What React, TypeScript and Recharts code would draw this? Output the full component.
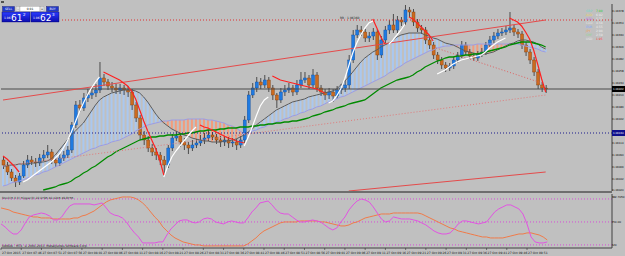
import React from 'react'
import {
  ComposedChart, Bar, Line, XAxis, YAxis, ReferenceLine, Cell,
} from 'recharts'

const _ = null

// EURUSD M1 candles, 27 Oct
const OPEN = [
  1.0608, 1.0607, 1.06056, 1.06044, 1.06036, 1.06048, 1.0607, 1.0608, 1.06076, 1.06074,
  1.06084, 1.0609, 1.06096, 1.0608, 1.06074, 1.06084, 1.0609, 1.061, 1.0615, 1.0619,
  1.06184, 1.06204, 1.0621, 1.06214, 1.0622, 1.06244, 1.06236, 1.06228, 1.06224, 1.0622,
  1.06224, 1.0622, 1.06216, 1.0619, 1.06164, 1.0613, 1.0612, 1.06104, 1.06096, 1.0609,
  1.0608, 1.0607, 1.06104, 1.06124, 1.06128, 1.06116, 1.0611, 1.06104, 1.0611, 1.06114,
  1.0612, 1.06124, 1.0613, 1.06126, 1.0612, 1.06116, 1.0612, 1.06114, 1.06116, 1.0611,
  1.0612, 1.0616, 1.0621, 1.06224, 1.06236, 1.0623, 1.0624, 1.06224, 1.0621, 1.062,
  1.06216, 1.0622, 1.06224, 1.06216, 1.0623, 1.0624, 1.06244, 1.0623, 1.0625, 1.06224,
  1.06216, 1.0621, 1.06216, 1.06208, 1.0622, 1.06224, 1.0623, 1.0628, 1.0633, 1.0634,
  1.06336, 1.06324, 1.06328, 1.06336, 1.0629, 1.0632, 1.0634, 1.0635, 1.0634, 1.0636,
  1.06356, 1.0638, 1.06376, 1.06356, 1.06344, 1.0634, 1.0632, 1.0631, 1.0629, 1.0628,
  1.0627, 1.06264, 1.06268, 1.0628, 1.0629, 1.0631, 1.06296, 1.06288, 1.06284, 1.06292,
  1.06296, 1.0631, 1.0632, 1.06328, 1.06334, 1.06336, 1.0634, 1.06344, 1.06336, 1.06332,
  1.0631, 1.06296, 1.0628, 1.06256, 1.0623, 1.06224,
]
const HIGH = [
  1.06088, 1.06076, 1.06062, 1.0605, 1.06054, 1.06078, 1.0609, 1.06088, 1.06084, 1.06092,
  1.061, 1.0611, 1.06102, 1.06086, 1.06092, 1.06098, 1.06108, 1.06156, 1.06198, 1.062,
  1.06214, 1.06222, 1.06226, 1.06232, 1.06276, 1.06252, 1.06242, 1.06236, 1.06232, 1.06232,
  1.0623, 1.06228, 1.06222, 1.06196, 1.0617, 1.06138, 1.06128, 1.06112, 1.06104, 1.06096,
  1.06088, 1.0611, 1.06132, 1.06138, 1.06134, 1.06124, 1.06116, 1.0612, 1.06122, 1.0613,
  1.06134, 1.0614, 1.06136, 1.06132, 1.06128, 1.06128, 1.06126, 1.06124, 1.06122, 1.06128,
  1.06168, 1.06218, 1.06234, 1.06246, 1.06244, 1.0625, 1.06246, 1.0623, 1.06214, 1.06224,
  1.0623, 1.06234, 1.0623, 1.0624, 1.06256, 1.06256, 1.0625, 1.06262, 1.06256, 1.0623,
  1.06222, 1.06224, 1.06222, 1.06228, 1.06232, 1.0624, 1.0629, 1.0634, 1.0635, 1.06348,
  1.06342, 1.06336, 1.06344, 1.06342, 1.06328, 1.06348, 1.0636, 1.06372, 1.06368, 1.06366,
  1.0639, 1.06386, 1.06382, 1.06362, 1.0635, 1.06346, 1.06326, 1.06316, 1.06296, 1.06286,
  1.06276, 1.06274, 1.06286, 1.06296, 1.06318, 1.06316, 1.06302, 1.06294, 1.06298, 1.06304,
  1.06316, 1.06328, 1.06336, 1.06342, 1.06344, 1.06348, 1.06376, 1.0635, 1.06342, 1.06338,
  1.06316, 1.06302, 1.06286, 1.06262, 1.06236, 1.0623,
]
const LOW = [
  1.06062, 1.0605, 1.06038, 1.06026, 1.0603, 1.06044, 1.06064, 1.0607, 1.06066, 1.06068,
  1.06078, 1.06084, 1.06072, 1.06066, 1.06068, 1.06078, 1.06084, 1.06094, 1.06144, 1.06176,
  1.06178, 1.06196, 1.06202, 1.06206, 1.06214, 1.06228, 1.0622, 1.06216, 1.06212, 1.06212,
  1.0621, 1.06206, 1.0618, 1.06156, 1.0612, 1.0611, 1.06096, 1.06088, 1.0608, 1.0607,
  1.06048, 1.06064, 1.06098, 1.06118, 1.06106, 1.061, 1.06092, 1.06098, 1.06104, 1.06108,
  1.06112, 1.06118, 1.0612, 1.06112, 1.06106, 1.06108, 1.06104, 1.06106, 1.061, 1.06104,
  1.06114, 1.06154, 1.06204, 1.06216, 1.06222, 1.06224, 1.06216, 1.062, 1.06184, 1.06194,
  1.06208, 1.06214, 1.06208, 1.0621, 1.06224, 1.06234, 1.06222, 1.06224, 1.06216, 1.06208,
  1.062, 1.06202, 1.06196, 1.06202, 1.06212, 1.06216, 1.06222, 1.06274, 1.06324, 1.06328,
  1.06316, 1.06316, 1.0632, 1.0628, 1.06284, 1.06314, 1.06332, 1.06334, 1.06334, 1.06348,
  1.0635, 1.06366, 1.06348, 1.06336, 1.06332, 1.06312, 1.06302, 1.06282, 1.06272, 1.06262,
  1.06256, 1.06258, 1.06262, 1.06274, 1.06284, 1.0629, 1.06282, 1.06278, 1.06278, 1.06286,
  1.0629, 1.06304, 1.06314, 1.06322, 1.06328, 1.0633, 1.06334, 1.06328, 1.06324, 1.06302,
  1.06288, 1.06272, 1.06248, 1.06222, 1.06216, 1.06214,
]
const CLOSE = [
  1.0607, 1.06056, 1.06044, 1.06036, 1.06048, 1.0607, 1.0608, 1.06076, 1.06074, 1.06084,
  1.0609, 1.06096, 1.0608, 1.06074, 1.06084, 1.0609, 1.061, 1.0615, 1.0619, 1.06184,
  1.06204, 1.0621, 1.06214, 1.0622, 1.06244, 1.06236, 1.06228, 1.06224, 1.0622, 1.06224,
  1.0622, 1.06216, 1.0619, 1.06164, 1.0613, 1.0612, 1.06104, 1.06096, 1.0609, 1.0608,
  1.0607, 1.06104, 1.06124, 1.06128, 1.06116, 1.0611, 1.06104, 1.0611, 1.06114, 1.0612,
  1.06124, 1.0613, 1.06126, 1.0612, 1.06116, 1.0612, 1.06114, 1.06116, 1.0611, 1.0612,
  1.0616, 1.0621, 1.06224, 1.06236, 1.0623, 1.0624, 1.06224, 1.0621, 1.062, 1.06216,
  1.0622, 1.06224, 1.06216, 1.0623, 1.0624, 1.06244, 1.0623, 1.0625, 1.06224, 1.06216,
  1.0621, 1.06216, 1.06208, 1.0622, 1.06224, 1.0623, 1.0628, 1.0633, 1.0634, 1.06336,
  1.06324, 1.06328, 1.06336, 1.0629, 1.0632, 1.0634, 1.0635, 1.0634, 1.0636, 1.06356,
  1.0638, 1.06376, 1.06356, 1.06344, 1.0634, 1.0632, 1.0631, 1.0629, 1.0628, 1.0627,
  1.06264, 1.06268, 1.0628, 1.0629, 1.0631, 1.06296, 1.06288, 1.06284, 1.06292, 1.06296,
  1.0631, 1.0632, 1.06328, 1.06334, 1.06336, 1.0634, 1.06344, 1.06336, 1.06332, 1.0631,
  1.06296, 1.0628, 1.06256, 1.0623, 1.06224, 1.06222,
]

// moving averages (fast gray, slow lavender -> cloud between them; long green)
const MA_FAST = [
  1.06068, 1.06068, 1.0607, 1.0607, 1.06072, 1.06072, 1.06072, 1.06074, 1.06074, 1.06076,
  1.06076, 1.06078, 1.06082, 1.0609, 1.061, 1.0611, 1.0612, 1.0613, 1.06138, 1.06146,
  1.06154, 1.06166, 1.06178, 1.0619, 1.062, 1.06206, 1.0621, 1.06214, 1.06216, 1.06218,
  1.0622, 1.0622, 1.0622, 1.06218, 1.06214, 1.06206, 1.06196, 1.06184, 1.06172, 1.06162,
  1.06154, 1.06148, 1.06142, 1.06138, 1.06134, 1.0613, 1.06128, 1.06124, 1.06122, 1.0612,
  1.06118, 1.06118, 1.06116, 1.06116, 1.06116, 1.06118, 1.06118, 1.0612, 1.06122, 1.06126,
  1.0613, 1.06136, 1.06142, 1.0615, 1.06156, 1.06162, 1.06168, 1.06174, 1.0618, 1.06184,
  1.06188, 1.06192, 1.06196, 1.06198, 1.062, 1.06202, 1.06206, 1.06208, 1.0621, 1.06212,
  1.06214, 1.06216, 1.06218, 1.06222, 1.0623, 1.06238, 1.06246, 1.06256, 1.06266, 1.06276,
  1.06284, 1.0629, 1.06296, 1.063, 1.06306, 1.0631, 1.06314, 1.0632, 1.06326, 1.0633,
  1.06332, 1.06334, 1.06334, 1.06334, 1.06334, 1.0633, 1.06328, 1.06324, 1.06322, 1.06318,
  1.06314, 1.06312, 1.0631, 1.06306, 1.06302, 1.06298, 1.06296, 1.06294, 1.06292, 1.06292,
  1.06292, 1.06294, 1.06296, 1.063, 1.06304, 1.06308, 1.06312, 1.06314, 1.06318, 1.0632,
  1.0632, 1.06318, 1.06316, 1.06312, 1.06306, 1.06302,
]
const MA_SLOW = [
  1.06028, 1.0603, 1.06034, 1.06036, 1.06038, 1.0604, 1.06044, 1.06046, 1.0605, 1.06052,
  1.06056, 1.06058, 1.06062, 1.06066, 1.0607, 1.06074, 1.06078, 1.06082, 1.06086, 1.0609,
  1.06094, 1.06098, 1.06102, 1.06104, 1.06108, 1.0611, 1.06112, 1.06116, 1.06118, 1.0612,
  1.06124, 1.06128, 1.06132, 1.06138, 1.06142, 1.06146, 1.0615, 1.06152, 1.06154, 1.06156,
  1.06158, 1.06158, 1.0616, 1.0616, 1.0616, 1.0616, 1.06162, 1.06162, 1.06162, 1.06162,
  1.06162, 1.0616, 1.0616, 1.06158, 1.06156, 1.06154, 1.0615, 1.06148, 1.06144, 1.06138,
  1.06132, 1.06134, 1.06138, 1.0614, 1.06144, 1.06146, 1.0615, 1.06152, 1.06156, 1.06158,
  1.06162, 1.06164, 1.06168, 1.0617, 1.06174, 1.06176, 1.0618, 1.06182, 1.06186, 1.06188,
  1.06192, 1.06196, 1.06198, 1.06202, 1.06206, 1.06208, 1.06212, 1.06216, 1.0622, 1.06224,
  1.06228, 1.06232, 1.06236, 1.0624, 1.06244, 1.06248, 1.06254, 1.06258, 1.06264, 1.06268,
  1.06274, 1.06278, 1.06282, 1.06286, 1.0629, 1.06294, 1.06298, 1.063, 1.06304, 1.06306,
  1.06308, 1.06308, 1.0631, 1.0631, 1.0631, 1.0631, 1.0631, 1.0631, 1.06312, 1.06312,
  1.06312, 1.06312, 1.06312, 1.06312, 1.06312, 1.06312, 1.06312, 1.06312, 1.06312, 1.0631,
  1.06308, 1.06306, 1.06304, 1.06302, 1.06298, 1.06296,
]
const MA_LONG = [
  _, _, _, _, _, _, _, _, _, _,
  1.0602, 1.06022, 1.06024, 1.06026, 1.0603, 1.06032, 1.06034, 1.06038, 1.06044, 1.06048,
  1.06054, 1.06058, 1.06064, 1.06068, 1.06074, 1.0608, 1.06086, 1.0609, 1.06096, 1.061,
  1.06104, 1.06108, 1.06112, 1.06116, 1.0612, 1.06122, 1.06124, 1.06126, 1.06126, 1.06128,
  1.06128, 1.0613, 1.0613, 1.0613, 1.06132, 1.06132, 1.06134, 1.06134, 1.06136, 1.06138,
  1.06138, 1.0614, 1.0614, 1.0614, 1.06142, 1.06142, 1.06144, 1.06144, 1.06144, 1.06146,
  1.06146, 1.06146, 1.06148, 1.06148, 1.0615, 1.0615, 1.06152, 1.06152, 1.06154, 1.06154,
  1.06156, 1.06156, 1.06158, 1.06158, 1.0616, 1.06162, 1.06164, 1.06168, 1.0617, 1.06172,
  1.06176, 1.06178, 1.0618, 1.06184, 1.06186, 1.06188, 1.06192, 1.06194, 1.06196, 1.06198,
  1.062, 1.06206, 1.06212, 1.06218, 1.06224, 1.06228, 1.06232, 1.06236, 1.0624, 1.06242,
  1.06244, 1.06246, 1.0625, 1.06256, 1.0626, 1.06266, 1.0627, 1.06274, 1.06278, 1.0628,
  1.06284, 1.06286, 1.06286, 1.06288, 1.06288, 1.0629, 1.0629, 1.06292, 1.06292, 1.06294,
  1.06296, 1.06298, 1.063, 1.06302, 1.06304, 1.06306, 1.0631, 1.06312, 1.06314, 1.06316,
  1.06316, 1.06316, 1.06314, 1.06312, 1.0631, 1.06306,
]

// trailing stop curve: white while rising, red while falling
const TRAIL_UP = [
  _, _, _, _, _, 1.06036, 1.0604, 1.06046, 1.06052, 1.06058,
  1.06064, 1.0607, 1.06076, 1.06084, 1.06092, 1.06104, 1.06118, 1.06136, 1.06156, 1.06176,
  1.06194, 1.0621, 1.06224, 1.06236, 1.06246, _, _, _, _, _,
  _, _, _, _, _, _, _, _, _, _,
  1.06046, 1.06068, 1.06086, 1.06098, 1.06108, 1.06118, 1.06128, 1.06138, 1.06146, _,
  _, _, _, _, _, _, _, _, _, _,
  1.06108, 1.06126, 1.06146, 1.06168, 1.06188, 1.062, 1.06206, _, _, _,
  _, _, _, _, _, _, _, _, _, _,
  _, 1.06194, 1.06198, 1.06208, 1.06222, 1.06242, 1.06268, 1.06294, 1.06314, 1.0633,
  1.06344, 1.06354, 1.06358, _, _, _, 1.06312, 1.0632, 1.0633, 1.0634,
  1.06352, _, _, _, _, _, _, _, 1.06252, 1.06256,
  1.0626, 1.06266, 1.06272, 1.06276, 1.0628, 1.06282, 1.06284, 1.06286, 1.06288, 1.0629,
  1.06296, 1.06304, 1.0631, 1.06316, 1.0632, 1.06324, _, _, _, _,
  _, _, _, _, _, _,
]
const TRAIL_DN = [
  1.06088, 1.06082, 1.06074, 1.06066, 1.06056, _, _, _, _, _,
  _, _, _, _, _, _, _, _, _, _,
  _, _, _, _, _, 1.06256, 1.06252, 1.06248, 1.06244, 1.0624,
  1.06234, 1.06228, 1.06218, 1.06202, 1.0618, 1.06158, 1.06138, 1.0612, 1.06102, 1.0608,
  1.0605, _, _, _, _, _, _, _, _, 1.0615,
  1.06146, 1.06144, 1.0614, 1.06136, 1.06132, 1.06128, 1.06124, 1.06122, 1.06118, 1.06116,
  1.06114, _, _, _, _, _, _, 1.06248, 1.06244, 1.0624,
  1.06238, 1.06236, 1.06234, 1.06232, 1.0623, 1.06228, 1.06226, 1.06224, 1.06222, 1.06218,
  1.06214, _, _, _, _, _, _, _, _, _,
  _, _, 1.06362, 1.06344, 1.06326, 1.06312, _, _, _, _,
  _, 1.06366, 1.06362, 1.06354, 1.06346, 1.06338, 1.0633, 1.06318, _, _,
  _, _, _, _, _, _, _, _, _, _,
  _, _, _, _, _, _, 1.06364, 1.0636, 1.06356, 1.06348,
  1.06336, 1.06322, 1.063, 1.06272, 1.06242, 1.06216,
]

// oscillator window
const OSC_MAIN = [
  47.4, 43.5, 38.3, 34.3, 34.3, 39.6, 48.7, 56.5, 59.1, 60.4,
  61.7, 60.4, 57.8, 52.6, 52.6, 56.5, 64.3, 70.9, 73.5, 73.5,
  73.5, 73.5, 73.5, 72.2, 73.5, 74.8, 68.3, 61.7, 59.1, 57.8,
  55.2, 50.0, 42.2, 35.7, 30.4, 22.6, 22.6, 22.6, 22.6, 23.9,
  23.9, 33.0, 40.9, 46.1, 51.3, 52.6, 52.6, 50.0, 48.7, 50.0,
  53.9, 55.2, 53.9, 50.0, 48.7, 47.4, 50.0, 51.3, 50.0, 48.7,
  48.7, 55.2, 63.0, 68.3, 74.8, 76.1, 77.4, 72.2, 65.7, 61.7,
  60.4, 60.4, 56.5, 52.6, 50.0, 50.0, 51.3, 52.6, 51.3, 50.0,
  46.1, 42.2, 39.6, 42.2, 50.0, 56.5, 65.7, 72.2, 77.4, 80.0,
  78.7, 76.1, 69.6, 61.7, 53.9, 50.0, 51.3, 56.5, 55.2, 53.9,
  53.9, 53.9, 52.6, 51.3, 48.7, 46.1, 42.2, 38.3, 35.7, 34.3,
  34.3, 35.7, 40.9, 47.4, 51.3, 51.3, 50.0, 48.7, 47.4, 48.7,
  50.0, 56.5, 63.0, 67.0, 69.6, 72.2, 72.2, 69.6, 67.0, 60.4,
  47.4, 30.4, 23.9, 22.6, 22.6, 23.9,
]
const OSC_SIGNAL = [
  68.3, 67.0, 65.7, 63.0, 61.7, 60.4, 59.1, 57.8, 56.5, 56.5,
  55.2, 55.2, 55.2, 53.9, 53.9, 53.9, 53.9, 53.9, 55.2, 55.2,
  57.8, 59.1, 61.7, 64.3, 68.3, 72.2, 76.1, 78.7, 80.0, 81.3,
  82.6, 82.6, 82.6, 81.3, 78.7, 74.8, 69.6, 63.0, 56.5, 51.3,
  43.5, 38.3, 33.0, 29.1, 26.5, 23.9, 22.6, 21.3, 20.0, 20.0,
  18.7, 18.7, 18.7, 18.7, 18.7, 18.7, 18.7, 18.7, 18.7, 18.7,
  18.7, 21.3, 25.2, 29.1, 34.3, 38.3, 40.9, 43.5, 46.1, 48.7,
  50.0, 50.0, 50.0, 50.0, 51.3, 51.3, 51.3, 51.3, 51.3, 50.0,
  50.0, 48.7, 47.4, 46.1, 44.8, 44.8, 46.1, 48.7, 50.0, 52.6,
  55.2, 56.5, 57.8, 59.1, 60.4, 60.4, 60.4, 61.7, 61.7, 61.7,
  61.7, 61.7, 61.7, 61.7, 60.4, 57.8, 55.2, 52.6, 50.0, 47.4,
  44.8, 42.2, 40.9, 38.3, 37.0, 35.7, 34.3, 33.0, 31.7, 30.4,
  30.4, 29.1, 29.1, 29.1, 29.1, 30.4, 31.7, 33.0, 34.3, 34.3,
  35.7, 35.7, 34.3, 33.0, 30.4, 26.5,
]

// one label every 5 bars
const TIME_LABELS = [
  '27 Oct 2015', '27 Oct 07:46', '27 Oct 07:51', '27 Oct 07:56', '27 Oct 08:01', '27 Oct 08:06',
  '27 Oct 08:11', '27 Oct 08:16', '27 Oct 08:21', '27 Oct 08:26', '27 Oct 08:31', '27 Oct 08:36',
  '27 Oct 08:41', '27 Oct 08:46', '27 Oct 08:51', '27 Oct 08:56', '27 Oct 09:01', '27 Oct 09:06',
  '27 Oct 09:11', '27 Oct 09:16', '27 Oct 09:21', '27 Oct 09:26', '27 Oct 09:31', '27 Oct 09:36',
  '27 Oct 09:41', '27 Oct 09:46', '27 Oct 09:51',
]

const LAST_PRICE = 1.06222
const LEVEL_PRICE = 1.06134
const RR_PRICE = 1.0636
const PRICE_TICKS = [
  1.06378, 1.06354, 1.0633, 1.06306, 1.06282, 1.06258, 1.06234, 1.0621,
  1.06186, 1.06162, 1.06114, 1.0609, 1.06066, 1.06042, 1.0602,
  LAST_PRICE, LEVEL_PRICE,
]
const OSC_TICKS = [82.705, 50, 20]

const CURRENCIES = ['GBP', 'AUD', 'NZD', 'CAD', 'EUR', 'JPY', 'CHF', 'USD']
const STRENGTH = [7.8, 6.92, 5.77, 4.58, 4.55, 2.98, 2.59, 1.95]
const CUR_COLORS = ['#6fd8c8', '#e8d060', '#c070e0', '#e4e4e4', '#7ea6ff', '#f0a050', '#8ed88e', '#e8e8e8']

const N_BARS = 152 // chart shift leaves empty room on the right

const rows = Array.from({ length: N_BARS }, (_v, i) => {
  const has = i < CLOSE.length
  const f = has ? MA_FAST[i] : null
  const s = has ? MA_SLOW[i] : null
  return {
    i,
    open: has ? OPEN[i] : null,
    high: has ? HIGH[i] : null,
    low: has ? LOW[i] : null,
    close: has ? CLOSE[i] : null,
    range: has ? [LOW[i], HIGH[i]] : null,
    cloud: f != null && s != null ? [Math.min(f, s), Math.max(f, s)] : null,
    cloudUp: f != null && s != null && f >= s,
    fast: f,
    slow: s,
    long: has ? MA_LONG[i] : null,
    up: has ? TRAIL_UP[i] : null,
    dn: has ? TRAIL_DN[i] : null,
    osc: has ? OSC_MAIN[i] : null,
    sig: has ? OSC_SIGNAL[i] : null,
  }
})

const FONT = '"DejaVu Sans", sans-serif'

function Candle(props: any) {
  const { x, y, width, height, payload } = props
  if (!payload || payload.open == null) return <g />
  const { open, close, high, low } = payload
  const top = Math.min(y, y + height)
  const h = Math.abs(height)
  const k = high > low ? h / (high - low) : 0
  const yO = top + (high - open) * k
  const yC = top + (high - close) * k
  const cx = x + width / 2
  const up = close >= open
  return (
    <g>
      <line x1={cx} x2={cx} y1={top} y2={top + h} stroke="#2e2e2e" strokeWidth={0.8} />
      <rect x={cx - 1.5} y={Math.min(yO, yC)} width={3} height={Math.max(1, Math.abs(yC - yO))}
        fill={up ? '#1f7ae0' : '#cc6a1e'} stroke={up ? '#124c9c' : '#7e3f10'} strokeWidth={0.4} />
    </g>
  )
}

function PriceTick(props: any) {
  const { x, y, payload } = props
  const v = payload.value
  const label = v.toFixed(5)
  if (v === LAST_PRICE || v === LEVEL_PRICE) {
    return (
      <g>
        <rect x={x - 1} y={y - 3} width={13} height={6} fill={v === LAST_PRICE ? '#000' : '#10108c'} />
        <text x={x} y={y + 1.2} fontSize={2.8} fill="#fff" fontFamily={FONT}
          textLength={10.5} lengthAdjust="spacingAndGlyphs">{label}</text>
      </g>
    )
  }
  return (
    <text x={x} y={y + 1.2} fontSize={2.8} fill="#000" fontFamily={FONT}
      textLength={10.5} lengthAdjust="spacingAndGlyphs">{label}</text>
  )
}

function OscTick(props: any) {
  const { x, y, payload } = props
  const v = payload.value
  const label = v === 82.705 ? '82.7050' : v === 50 ? '50.00' : '20'
  return (
    <text x={x} y={y + 1.2} fontSize={2.8} fill="#000" fontFamily={FONT}>{label}</text>
  )
}

function TimeTick(props: any) {
  const { x, y, payload } = props
  const i = payload.value
  if (i % 5 !== 0 || TIME_LABELS[i / 5] == null) return <g />
  return (
    <g>
      <line x1={x} x2={x} y1={y} y2={y + 2} stroke="#333" strokeWidth={0.6} />
      <text x={x + 1} y={y + 5.5} fontSize={3} fill="#111" fontFamily={FONT}>{TIME_LABELS[i / 5]}</text>
    </g>
  )
}

function TradePanel() {
  const box = (x0: number, pre: string, big: string, sup: string) => (
    <g>
      <rect x={x0} y={12} width={28} height={10} fill="url(#panelBlue)" stroke="#0a0a70" strokeWidth={0.5} />
      <text x={x0 + 2} y={19} fontSize={3} fill="#fff" fontFamily={FONT}>{pre}</text>
      <text x={x0 + 9} y={20.8} fontSize={9} fill="#fff" fontFamily={FONT}>{big}</text>
      <text x={x0 + 21} y={16} fontSize={4} fill="#fff" fontFamily={FONT}>{sup}</text>
    </g>
  )
  return (
    <g>
      <defs>
        <linearGradient id="panelBlue" x1="0" y1="0" x2="0" y2="1">
          <stop offset="0" stopColor="#2b3cff" />
          <stop offset="1" stopColor="#0c0cb0" />
        </linearGradient>
      </defs>
      <rect x={1} y={1} width={3} height={2} fill="#505050" />
      <rect x={2} y={6} width={58} height={17} fill="#d0d0d0" />
      <rect x={2.5} y={6.5} width={12} height={5} fill="#2038c8" stroke="#101060" strokeWidth={0.4} />
      <text x={8.5} y={10.2} fontSize={3} fill="#fff" textAnchor="middle" fontFamily={FONT}>SELL</text>
      <rect x={16} y={6.5} width={4} height={5} fill="#e0e0e0" stroke="#888" strokeWidth={0.3} />
      <text x={18} y={10.2} fontSize={3} fill="#000" textAnchor="middle" fontFamily={FONT}>-</text>
      <rect x={20} y={6.5} width={20} height={5} fill="#fff" stroke="#888" strokeWidth={0.3} />
      <text x={30} y={10.2} fontSize={3} fill="#000" textAnchor="middle" fontFamily={FONT}>0.01</text>
      <rect x={40} y={6.5} width={4} height={5} fill="#e0e0e0" stroke="#888" strokeWidth={0.3} />
      <text x={42} y={10.2} fontSize={3} fill="#000" textAnchor="middle" fontFamily={FONT}>+</text>
      <rect x={46.5} y={6.5} width={12} height={5} fill="#2038c8" stroke="#101060" strokeWidth={0.4} />
      <text x={52.5} y={10.2} fontSize={3} fill="#fff" textAnchor="middle" fontFamily={FONT}>BUY</text>
      {box(2, '1.06', '61', '2')}
      {box(31, '1.06', '62', '3')}
    </g>
  )
}

export default function App() {
  return (
    <div style={{
      position: 'fixed', left: 0, top: 0, width: 625, height: 256,
      background: '#c0c0c0', overflow: 'hidden', fontFamily: FONT,
    }}>
      {/* price window */}
      <div style={{ position: 'absolute', left: 0, top: 0 }}>
        <ComposedChart width={625} height={192} data={rows} margin={{ top: 4, right: 0, bottom: 1, left: 1 }}>
          <XAxis xAxisId="c" dataKey="i" hide />
          <XAxis xAxisId="k" dataKey="i" hide />
          <YAxis orientation="right" width={13} domain={[1.06018, 1.06392]} allowDataOverflow
            ticks={PRICE_TICKS} interval={0} tick={<PriceTick />} tickSize={1} tickMargin={0}
            tickLine={{ stroke: '#000', strokeWidth: 0.6 }} axisLine={{ stroke: '#404040' }} />

          {/* hatched cloud between the two averages */}
          <Bar xAxisId="k" dataKey="cloud" barSize={2} isAnimationActive={false}>
            {rows.map(r => (
              <Cell key={r.i} fill={r.cloudUp ? '#aac8f0' : '#f29c7c'} />
            ))}
          </Bar>
          <Line xAxisId="c" dataKey="slow" stroke="#9c9ce4" strokeWidth={1} dot={false} isAnimationActive={false} />
          <Line xAxisId="c" dataKey="fast" stroke="#5c5c5c" strokeWidth={1} dot={false} isAnimationActive={false} />
          <Line xAxisId="c" dataKey="long" stroke="#008a00" strokeWidth={1.3} dot={false} isAnimationActive={false} />

          <ReferenceLine xAxisId="c" y={RR_PRICE} stroke="#e03030" strokeDasharray="1 2" />
          <ReferenceLine xAxisId="c" y={LAST_PRICE} stroke="#4a4a4a" strokeWidth={1} />
          <ReferenceLine xAxisId="c" y={LEVEL_PRICE} stroke="#1a1a8c" strokeDasharray="1 2" />
          <ReferenceLine xAxisId="c" ifOverflow="hidden" stroke="#e44a4a"
            segment={[{ x: 0, y: 1.062 }, { x: 135, y: 1.0636 }]} />
          <ReferenceLine xAxisId="c" ifOverflow="hidden" stroke="#e44a4a"
            segment={[{ x: 86, y: 1.06018 }, { x: 135, y: 1.06056 }]} />
          <ReferenceLine xAxisId="c" ifOverflow="hidden" stroke="#e07a7a" strokeDasharray="1 2"
            segment={[{ x: 0, y: 1.06068 }, { x: 135, y: 1.0621 }]} />
          <ReferenceLine xAxisId="c" ifOverflow="hidden" stroke="#e06060" strokeDasharray="1 2"
            segment={[{ x: 107, y: 1.06306 }, { x: 134, y: 1.06234 }]} />

          <Bar xAxisId="c" dataKey="range" barSize={3} shape={<Candle />} isAnimationActive={false} />

          <Line xAxisId="c" dataKey="up" stroke="#ffffff" strokeWidth={1.2} dot={false} isAnimationActive={false} />
          <Line xAxisId="c" dataKey="dn" stroke="#ff2020" strokeWidth={1.2} dot={false} isAnimationActive={false} />
        </ComposedChart>
      </div>

      {/* oscillator window */}
      <div style={{ position: 'absolute', left: 0, top: 192 }}>
        <ComposedChart width={625} height={64} data={rows} margin={{ top: 2, right: 0, bottom: 0, left: 1 }}>
          <XAxis dataKey="i" height={8} interval={0} tick={<TimeTick />} tickLine={false}
            tickSize={0} tickMargin={0} axisLine={{ stroke: '#404040' }} />
          <YAxis orientation="right" width={13} domain={[16, 86.5]} allowDataOverflow
            ticks={OSC_TICKS} interval={0} tick={<OscTick />} tickSize={1} tickMargin={0}
            tickLine={{ stroke: '#000', strokeWidth: 0.6 }} axisLine={{ stroke: '#404040' }} />
          <ReferenceLine y={80} stroke="#d64cd6" strokeDasharray="1 2" />
          <ReferenceLine y={50} stroke="#d64cd6" strokeDasharray="1 2" />
          <ReferenceLine y={20} stroke="#d64cd6" strokeDasharray="1 2" />
          <Line dataKey="sig" stroke="#f07a48" strokeWidth={1} dot={false} isAnimationActive={false} />
          <Line dataKey="osc" stroke="#e252e2" strokeWidth={1} dot={false} isAnimationActive={false} />
        </ComposedChart>
      </div>

      {/* window furniture and labels */}
      <svg width={625} height={256} style={{ position: 'absolute', left: 0, top: 0, pointerEvents: 'none' }}>
        <rect x={0} y={191} width={612} height={2} fill="#6e6e6e" />
        <TradePanel />
        <text x={340} y={19} fontSize={3} fill="#202020" fontFamily={FONT}>RR : 1.06360</text>
        {CURRENCIES.map((c, k) => (
          <g key={c}>
            <text x={586} y={12 + k * 4} fontSize={3} fill={CUR_COLORS[k]} fontFamily={FONT}>{c}</text>
            <text x={596} y={12 + k * 4} fontSize={3} fontFamily={FONT}
              fill={k === 0 ? '#30d030' : k === CURRENCIES.length - 1 ? '#ff3a3a' : '#ececec'}>
              {STRENGTH[k].toFixed(2)}
            </text>
          </g>
        ))}
        <text x={2} y={198.5} fontSize={2.9} fill="#202020" fontFamily={FONT}>
          Stoch(5,3,3) Trigger(3) 22.0795 40.1245 49.8755
        </text>
        <text x={2} y={247} fontSize={3} fill="#202020" fontFamily={FONT}>
          OANDA - MT4, © 2001-2013, MetaQuotes Software Corp.
        </text>
      </svg>
    </div>
  )
}
